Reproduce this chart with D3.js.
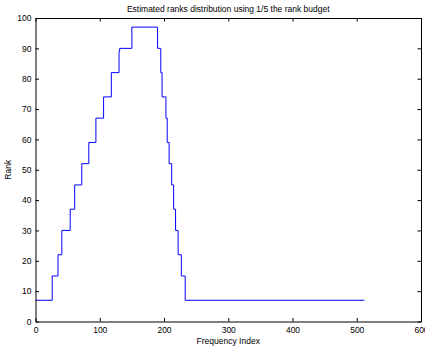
<!DOCTYPE html>
<html>
<head>
<meta charset="utf-8">
<script src="https://cdn.jsdelivr.net/npm/d3@7"></script>
<style>
  html, body { margin: 0; padding: 0; background: #fff; }
  svg { display: block; }
  text { font-family: "Liberation Sans", Arial, Helvetica, sans-serif; fill: #000; }
</style>
</head>
<body>
<svg id="chart" width="425" height="347"></svg>
<script>
// Step start index (frequency index) and the rank held from that index on
const stepIndex = [0, 26, 35, 41, 54, 61, 72, 83, 94, 106, 118, 130, 131, 150,
                   190, 195, 197, 203, 205, 208, 212, 215, 218, 222, 227, 233, 512];
const stepRank  = [7, 15, 22, 30, 37, 45, 52, 59, 67, 74, 82, 89, 90, 97,
                   90, 82, 74, 67, 59, 52, 45, 37, 30, 22, 15, 7, 7];
const xTicks = [0, 100, 200, 300, 400, 500, 600];
const yTicks = [0, 10, 20, 30, 40, 50, 60, 70, 80, 90, 100];
const titleText = "Estimated ranks distribution using 1/5 the rank budget";
const xLabel = "Frequency Index";
const yLabel = "Rank";

const data = stepIndex.map((x, i) => ({x, y: stepRank[i]}));

const svg = d3.select("#chart");
const L = 35.5, R = 421, T = 18, B = 321.5;
const x = d3.scaleLinear().domain([0, 600]).range([L, R]);
const y = d3.scaleLinear().domain([0, 100]).range([B, T]);
const fs = 8.5, tk = 3.5;

// line
const line = d3.line().x(d => x(d.x)).y(d => y(d.y)).curve(d3.curveStepAfter);
svg.append("path").datum(data)
  .attr("d", line)
  .attr("fill", "none")
  .attr("stroke", "#0000ff")
  .attr("stroke-width", 1);

// axes (ticks inward, MATLAB style)
const gx = svg.append("g").attr("transform", `translate(0,${B})`)
  .call(d3.axisBottom(x).tickValues(xTicks).tickSizeInner(-tk).tickSizeOuter(0).tickPadding(6));
const gxTop = svg.append("g").attr("transform", `translate(0,${T})`)
  .call(d3.axisTop(x).tickValues(xTicks).tickSizeInner(-tk).tickSizeOuter(0).tickFormat(""));
const gy = svg.append("g").attr("transform", `translate(${L},0)`)
  .call(d3.axisLeft(y).tickValues(yTicks).tickSizeInner(-tk).tickSizeOuter(0).tickPadding(4));
const gyR = svg.append("g").attr("transform", `translate(${R},0)`)
  .call(d3.axisRight(y).tickValues(yTicks).tickSizeInner(-tk).tickSizeOuter(0).tickFormat(""));

[gx, gxTop, gy, gyR].forEach(g => {
  g.select(".domain").attr("stroke", "#000").attr("stroke-width", 1);
  g.selectAll(".tick line").attr("stroke", "#000");
  g.selectAll("text").attr("font-size", fs).attr("fill", "#000")
    .attr("font-family", '"Liberation Sans", Arial, sans-serif');
});
gx.selectAll("text").attr("dy", "0.6em");

// titles
svg.append("text").attr("x", (L + R) / 2).attr("y", 12)
  .attr("text-anchor", "middle").attr("font-size", fs).text(titleText);
svg.append("text").attr("x", (L + R) / 2).attr("y", 343.5)
  .attr("text-anchor", "middle").attr("font-size", fs).text(xLabel);
svg.append("text").attr("transform", `translate(11,${(T + B) / 2}) rotate(-90)`)
  .attr("text-anchor", "middle").attr("font-size", fs).text(yLabel);
</script>
</body>
</html>
